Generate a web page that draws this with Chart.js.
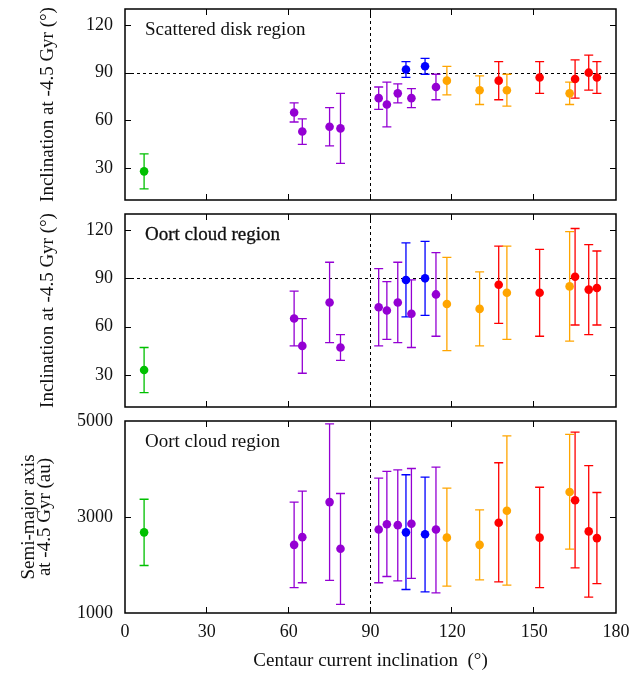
<!DOCTYPE html>
<html><head><meta charset="utf-8">
<script src="https://cdn.jsdelivr.net/npm/chart.js@4.4.1/dist/chart.umd.min.js"></script>
<style>
html,body{margin:0;padding:0;background:#fff;}
#wrap{position:relative;width:633px;height:674px;}
canvas{position:absolute;left:0;}
</style></head><body>
<div id="wrap">
<canvas id="c1" width="633" height="207" style="top:0px"></canvas>
<canvas id="c2" width="633" height="207" style="top:207px"></canvas>
<canvas id="c3" width="633" height="274" style="top:400px"></canvas>
</div>
<script>
// ---- data ----
const currentIncl = [7, 62, 65, 75, 79, 93, 96, 100, 103, 105, 110, 114, 118, 130, 137, 140, 152, 163, 165, 170, 173];
// class of each Centaur: 0 green, 1 purple, 2 blue, 3 orange, 4 red
const classOf = [0, 1, 1, 1, 1, 1, 1, 1, 2, 1, 2, 1, 3, 3, 4, 3, 4, 3, 4, 4, 4];

const sdIncl  = [28, 65, 53, 56, 55, 74, 70, 77, 92, 74, 94, 81, 85, 79, 85, 79, 87, 77, 86, 90, 87];
const sdLow   = [17, 59, 45, 44, 33, 67, 56, 71, 87, 68, 89, 73, 76, 70, 73, 69, 77, 70, 74, 79, 77];
const sdHigh  = [39, 71, 61, 68, 77, 81, 84, 83, 97, 80, 99, 89, 94, 88, 97, 89, 97, 84, 98, 101, 97];

const ocIncl  = [33, 65, 48, 75, 47, 72, 70, 75, 89, 68, 90, 80, 74, 71, 86, 81, 81, 85, 91, 83, 84];
const ocLow   = [19, 48, 31, 50, 39, 48, 52, 50, 66, 47, 67, 54, 45, 48, 62, 52, 54, 51, 61, 55, 61];
const ocHigh  = [47, 82, 65, 100, 55, 96, 88, 100, 112, 89, 113, 106, 103, 94, 110, 110, 108, 119, 121, 111, 107];

const ocA     = [2680, 2420, 2580, 3310, 2340, 2740, 2850, 2830, 2680, 2860, 2640, 2740, 2570, 2420, 2880, 3130, 2570, 3520, 3350, 2700, 2560];
const ocALow  = [1990, 1530, 1630, 1680, 1180, 1630, 1760, 1670, 1490, 1720, 1440, 1420, 1560, 1690, 1650, 1580, 1530, 2330, 1940, 1330, 1610];
const ocAHigh = [3370, 3310, 3540, 4940, 3490, 3810, 3950, 3980, 3880, 4010, 3830, 4040, 3600, 3150, 4130, 4690, 3620, 4720, 4770, 4070, 3510];

const xTicks = [0, 30, 60, 90, 120, 150, 180];
const inclTicks = [30, 60, 90, 120];
const aTicks = [1000, 3000, 5000];

// ---- styles ----
const classColors = ['#00c000', '#9400d3', '#0000ff', '#ffa500', '#ff0000'];
const FONT = "'Liberation Serif', 'Times New Roman', serif";
const FS = 18;   // tick labels
const FT = 19;   // titles and panel labels

const panelPlugin = {
  id: 'panel',
  beforeDatasetsDraw(chart, args, o) {
    const {ctx, chartArea: {left, right, top, bottom}, scales: {x, y}} = chart;
    ctx.save();
    ctx.strokeStyle = '#000'; ctx.lineWidth = 1; ctx.setLineDash([3, 3]);
    const xv = Math.round(x.getPixelForValue(90)) - 0.5;
    ctx.beginPath(); ctx.moveTo(xv, top); ctx.lineTo(xv, bottom); ctx.stroke();
    if (o.hline != null) {
      const yv = Math.round(y.getPixelForValue(o.hline)) + 0.5;
      ctx.beginPath(); ctx.moveTo(left, yv); ctx.lineTo(right, yv); ctx.stroke();
    }
    ctx.setLineDash([]);
    ctx.lineWidth = 1.3;
    o.lo.forEach((lv, i) => {
      const px = x.getPixelForValue(currentIncl[i]);
      const p1 = y.getPixelForValue(lv), p2 = y.getPixelForValue(o.hi[i]);
      ctx.strokeStyle = classColors[classOf[i]];
      ctx.beginPath();
      ctx.moveTo(px, p1); ctx.lineTo(px, p2);
      ctx.moveTo(px - 4.5, p1); ctx.lineTo(px + 4.5, p1);
      ctx.moveTo(px - 4.5, p2); ctx.lineTo(px + 4.5, p2);
      ctx.stroke();
    });
    ctx.restore();
  },
  afterDraw(chart, args, o) {
    const {ctx, chartArea: {left, right, top, bottom}, scales: {x, y}} = chart;
    ctx.save();
    ctx.strokeStyle = '#000'; ctx.lineWidth = 1.5;
    ctx.strokeRect(left, top, right - left, bottom - top);
    ctx.lineWidth = 1;
    const tl = 6;
    ctx.beginPath();
    xTicks.forEach(v => {
      if (v === 0 || v === 180) return;
      const px = Math.round(x.getPixelForValue(v)) - 0.5;
      ctx.moveTo(px, bottom); ctx.lineTo(px, bottom - tl);
      ctx.moveTo(px, top); ctx.lineTo(px, top + tl);
    });
    o.yt.forEach(v => {
      if (v === y.min || v === y.max) return;
      const py = Math.round(y.getPixelForValue(v)) + 0.5;
      ctx.moveTo(left, py); ctx.lineTo(left + tl, py);
      ctx.moveTo(right, py); ctx.lineTo(right - tl, py);
    });
    ctx.stroke();
    ctx.fillStyle = '#111';
    ctx.font = FT + 'px ' + FONT;
    ctx.textBaseline = 'alphabetic';
    ctx.fillText(o.label, left + 20, top + 26);
    if (o.heavy) {
      ctx.strokeStyle = '#111'; ctx.lineWidth = 0.3;
      ctx.strokeText(o.label, left + 20, top + 26);
    }
    ctx.restore();
  }
};

function makePanel(id, vals, lo, hi, yMin, yMax, yt, yTitle, titlePad, titleLH, label, opts) {
  const datasets = classColors.map((c, k) => ({
    data: currentIncl.map((xv, i) => ({x: xv, y: vals[i], k: classOf[i]})).filter(p => p.k === k),
    backgroundColor: c, borderWidth: 0, pointRadius: 4.3, pointHoverRadius: 4.3
  }));
  const zeroPad = s => { s.paddingTop = 0; s.paddingBottom = 0; s.paddingLeft = 0; s.paddingRight = 0; };
  return new Chart(document.getElementById(id), {
    type: 'scatter',
    data: {datasets},
    plugins: [panelPlugin],
    options: {
      responsive: false, animation: false, events: [],
      layout: {padding: {left: 0, right: 17, top: opts.padTop, bottom: opts.padBottom}},
      plugins: {
        legend: {display: false}, tooltip: {enabled: false},
        panel: {lo, hi, yt, label, hline: opts.hline, heavy: opts.heavy}
      },
      scales: {
        x: {
          type: 'linear', min: 0, max: 180,
          display: opts.showX,
          grid: {display: false, drawTicks: false}, border: {display: false},
          afterBuildTicks: s => { s.ticks = xTicks.map(v => ({value: v})); },
          ticks: {color: '#111', font: {family: FONT, size: FS}, padding: 8, maxRotation: 0, autoSkip: false,
                  callback: v => String(v)},
          title: {display: true, text: 'Centaur current inclination  (°)', color: '#111',
                  font: {family: FONT, size: FT, lineHeight: 1.1}, padding: {top: 0, bottom: 3}},
          afterFit: s => { zeroPad(s); if (opts.showX) s.height = 61; }
        },
        y: {
          type: 'linear', min: yMin, max: yMax,
          grid: {display: false, drawTicks: false}, border: {display: false},
          afterBuildTicks: s => { s.ticks = yt.map(v => ({value: v})); },
          ticks: {color: '#111', font: {family: FONT, size: FS}, padding: 12, autoSkip: false,
                  callback: v => String(v)},
          title: {display: true, text: yTitle, color: '#111',
                  font: {family: FONT, size: FT, lineHeight: titleLH}, padding: {top: titlePad, bottom: 0}},
          afterFit: s => { zeroPad(s); s.width = 125; }
        }
      }
    }
  });
}

makePanel('c1', sdIncl, sdLow, sdHigh, 10, 130, inclTicks, 'Inclination at -4.5 Gyr (°)', 39, 0.95,
  'Scattered disk region', {padTop: 9, padBottom: 7, showX: false, hline: 90, heavy: false});
makePanel('c2', ocIncl, ocLow, ocHigh, 10, 130, inclTicks, 'Inclination at -4.5 Gyr (°)', 39, 0.95,
  'Oort cloud region', {padTop: 7, padBottom: 7, showX: false, hline: 90, heavy: true});
makePanel('c3', ocA, ocALow, ocAHigh, 1000, 5000, aTicks, ['Semi-major axis', 'at -4.5 Gyr (au)'], 21, 0.86,
  'Oort cloud region', {padTop: 21, padBottom: 0, showX: true, hline: null, heavy: false});
</script>
</body></html>
